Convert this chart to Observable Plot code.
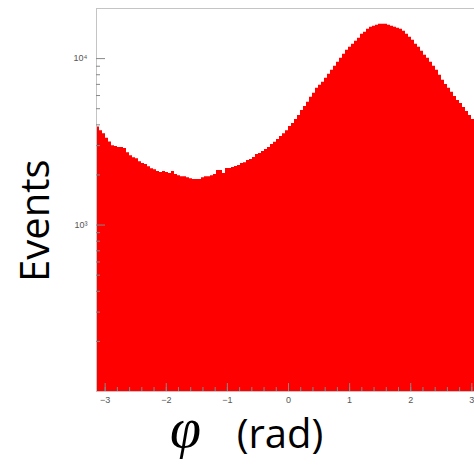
<!DOCTYPE html>
<html>
<head>
<meta charset="utf-8">
<script src="https://cdn.jsdelivr.net/npm/d3@7"></script>
<script src="https://cdn.jsdelivr.net/npm/@observablehq/plot@0.6"></script>
<style>
html, body { margin: 0; padding: 0; background: #fff; overflow: hidden; }
#chart svg { display: block; }
</style>
</head>
<body>
<div id="chart"></div>
<script>
// Histogram counts per bin (128 bins spanning -π .. π)
const counts = [
  3880, 3680, 3540, 3320, 3150, 3000, 2960, 2920, 2920, 2880,
  2720, 2610, 2540, 2500, 2400, 2340, 2310, 2240, 2180, 2150,
  2095, 2066, 2095, 2066, 2037, 2095, 2009, 1980, 1954, 1954,
  1927, 1900, 1875, 1875, 1875, 1927, 1954, 1954, 1980, 2009,
  2125, 2125, 2037, 2184, 2184, 2215, 2245, 2276, 2340, 2370,
  2440, 2475, 2544, 2650, 2688, 2765, 2845, 2922, 3050, 3140,
  3270, 3400, 3540, 3680, 3910, 4070, 4300, 4554, 4880, 5160,
  5460, 5850, 6190, 6625, 6910, 7210, 7620, 8050, 8500, 8990,
  9500, 10040, 10620, 11220, 11700, 12200, 12720, 13250, 14000, 14400,
  15010, 15440, 15650, 15860, 16090, 16090, 16090, 15860, 15650, 15440,
  15220, 15010, 14600, 14000, 13440, 12890, 12200, 11700, 11070, 10470,
  10040, 9500, 8990, 8500, 7940, 7400, 7000, 6625, 6280, 5930,
  5610, 5380, 5090, 4810, 4554, 4300, 4070, 3910
];
const xExtent = [-Math.PI, Math.PI];
const yDomain = [100, 20000];
const xMajorTicks = [-3, -2, -1, 0, 1, 2, 3];
const xMinorTicks = d3.range(-15, 16).map(k => k * 0.2);
const yMajorTicks = [1000, 10000];
const yMinorTicks = [200, 300, 400, 500, 600, 700, 800, 900, 2000, 3000, 4000, 5000, 6000, 7000, 8000, 9000];
const yLabel = "Events";
const xLabelSymbol = "φ";
const xLabelUnit = "(rad)";

const W = 474, H = 468;
const mL = 96, mR = -6, mT = 8, mB = 77;
const frameW = W - mL - mR, frameH = H - mT - mB;

const binW = (xExtent[1] - xExtent[0]) / counts.length;
const pts = counts.map((v, i) => ({x: xExtent[0] + i * binW, v}));
pts.push({x: xExtent[1], v: counts[counts.length - 1]});

const sup = {"2": "²", "3": "³", "4": "⁴"};
const fmtPow = d => "10" + sup[String(Math.round(Math.log10(d)))];

const chart = Plot.plot({
  width: W, height: H,
  marginLeft: mL, marginRight: mR, marginTop: mT, marginBottom: mB,
  style: {background: "#fff", fontFamily: "'Liberation Sans', Arial, sans-serif"},
  x: {domain: xExtent},
  y: {type: "log", domain: yDomain},
  marks: [
    Plot.areaY(pts, {x: "x", y1: yDomain[0], y2: "v", curve: "step-after", fill: "#ff0000"}),
    Plot.frame({stroke: "#c4c4c4"}),
    Plot.tickX(xMinorTicks, {x: d => d, insetTop: frameH - 4, stroke: "#888"}),
    Plot.tickX(xMajorTicks, {x: d => d, insetTop: frameH - 8, stroke: "#888"}),
    Plot.tickY(yMinorTicks, {y: d => d, insetRight: frameW - 4, stroke: "#888"}),
    Plot.tickY(yMajorTicks, {y: d => d, insetRight: frameW - 9, stroke: "#888"}),
    Plot.axisX(xMajorTicks, {tickSize: 0, tickPadding: 5, fontSize: 9, fill: "#555", label: null}),
    Plot.axisY(yMajorTicks, {tickSize: 0, tickPadding: 9, fontSize: 9, fill: "#555", label: null, tickFormat: fmtPow}),
    Plot.text([yLabel], {text: d => d, frameAnchor: "left", dx: -60, dy: 82, rotate: -90,
      fontSize: 40, fontFamily: "'Open Sans'", fill: "#000", lineAnchor: "middle"}),
    Plot.text([xLabelSymbol], {text: d => d, frameAnchor: "bottom", dx: 185 - 288, dy: 446 - 391,
      fontSize: 56, fontStyle: "italic", fontFamily: "'Liberation Serif'", fill: "#000", lineAnchor: "bottom"}),
    Plot.text([xLabelUnit], {text: d => d, frameAnchor: "bottom", dx: 279.5 - 288, dy: 447 - 391,
      fontSize: 40, fontFamily: "'Open Sans'", fill: "#000", lineAnchor: "bottom"})
  ]
});
document.getElementById("chart").appendChild(chart);
</script>
</body>
</html>
